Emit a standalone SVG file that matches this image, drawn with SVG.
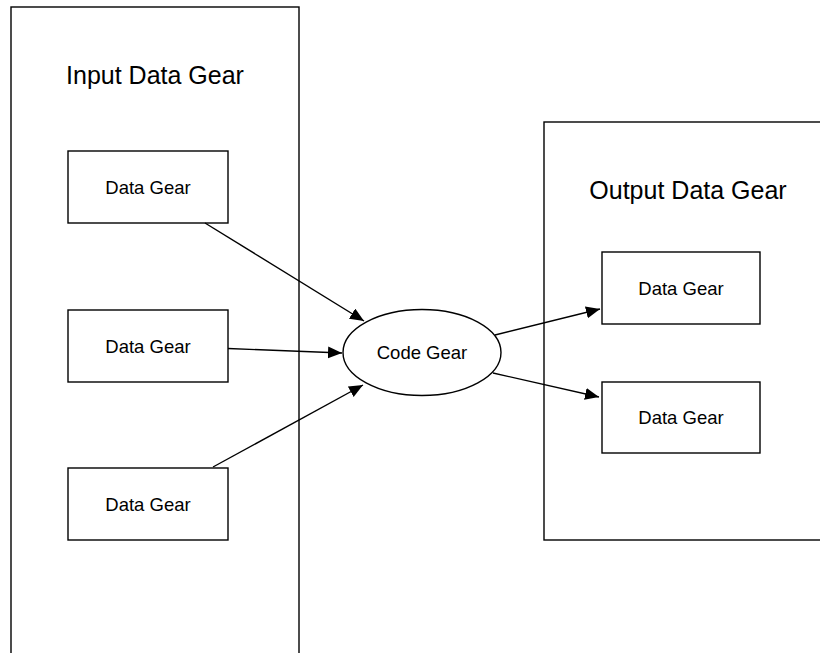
<svg xmlns="http://www.w3.org/2000/svg" width="820" height="653" viewBox="0 0 820 653">
<style>
.box{fill:#fff;stroke:#000;stroke-width:1.4}
.frame{fill:none;stroke:#000;stroke-width:1.4}
.lbl{font-family:"Liberation Sans",Arial,sans-serif;font-size:18.5px;fill:#000;text-anchor:middle}
.ttl{font-family:"Liberation Sans",Arial,sans-serif;font-size:25px;fill:#000;text-anchor:middle}
.conn{stroke:#000;stroke-width:1.4;fill:none;marker-end:url(#arr)}
</style>
<defs>
<marker id="arr" markerUnits="userSpaceOnUse" markerWidth="15" markerHeight="13" refX="14" refY="6" orient="auto">
<path d="M0,0 L14,6 L0,12 z" fill="#000"/>
</marker>
</defs>
<rect width="820" height="653" fill="#fff"/>
<g id="input-group">
<rect class="frame" x="11" y="7" width="288" height="660"/>
<text class="ttl" x="155" y="84">Input Data Gear</text>
</g>
<g id="output-group">
<rect class="frame" x="544" y="122" width="290" height="418"/>
<text class="ttl" x="688" y="199">Output Data Gear</text>
</g>
<g id="in1">
<rect class="box" x="68" y="151" width="160" height="72"/>
<text class="lbl" x="148" y="194">Data Gear</text>
</g>
<g id="in2">
<rect class="box" x="68" y="310" width="160" height="72"/>
<text class="lbl" x="148" y="352.5">Data Gear</text>
</g>
<g id="in3">
<rect class="box" x="68" y="468" width="160" height="72"/>
<text class="lbl" x="148" y="511">Data Gear</text>
</g>
<g id="code">
<ellipse class="box" cx="422" cy="352.5" rx="79" ry="43"/>
<text class="lbl" x="422" y="359">Code Gear</text>
</g>
<g id="out1">
<rect class="box" x="602" y="252" width="158" height="72"/>
<text class="lbl" x="681" y="295">Data Gear</text>
</g>
<g id="out2">
<rect class="box" x="602" y="382" width="158" height="71"/>
<text class="lbl" x="681" y="424">Data Gear</text>
</g>
<g id="connectors">
<line class="conn" x1="205" y1="223" x2="364" y2="321"/>
<line class="conn" x1="228" y1="348.5" x2="342" y2="353"/>
<line class="conn" x1="213" y1="467" x2="363" y2="385"/>
<line class="conn" x1="495" y1="335" x2="600" y2="309"/>
<line class="conn" x1="493" y1="373" x2="599" y2="397"/>
</g>
</svg>
